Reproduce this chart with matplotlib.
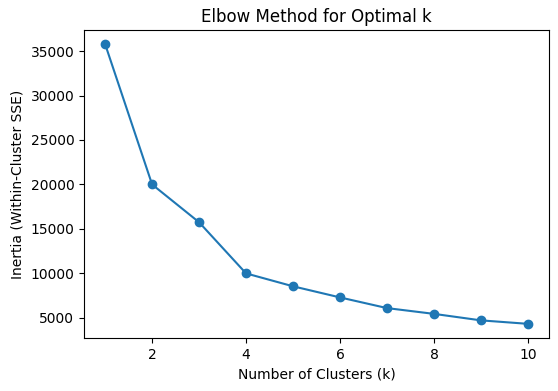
import matplotlib
matplotlib.use("Agg")
import matplotlib.pyplot as plt

# elbow curve values
k_values = [1, 2, 3, 4, 5, 6, 7, 8, 9, 10]
inertia = [35780, 20000, 15750, 10000, 8550, 7300, 6100, 5450, 4720, 4330]

fig = plt.figure(figsize=(5.58, 3.91), dpi=100)
ax = fig.add_axes([0.1505, 0.136, 0.8335, 0.787])
ax.plot(k_values, inertia, marker='o')
ax.set_title('Elbow Method for Optimal k')
ax.set_xlabel('Number of Clusters (k)')
ax.set_ylabel('Inertia (Within-Cluster SSE)')

fig.savefig('out.png', dpi=100)
